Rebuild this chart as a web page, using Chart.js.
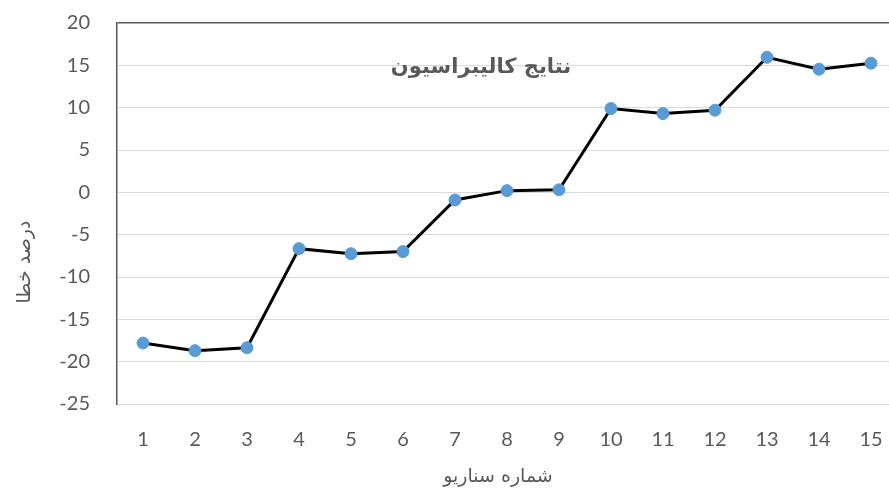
<!DOCTYPE html>
<html>
<head>
<meta charset="utf-8">
<script src="https://cdn.jsdelivr.net/npm/chart.js@4/dist/chart.umd.min.js"></script>
<style>
html,body{margin:0;padding:0;background:#fff;overflow:hidden;}
canvas{display:block;}
</style>
</head>
<body>
<canvas id="c" width="904" height="493"></canvas>
<script>
const categories = ['1','2','3','4','5','6','7','8','9','10','11','12','13','14','15'];
const errorPercent = [-17.8, -18.7, -18.35, -6.65, -7.25, -7.0, -0.9, 0.2, 0.3, 9.9, 9.3, 9.7, 15.95, 14.55, 15.25];
const yMin = -25, yMax = 20, yStep = 5;
const chartTitle = 'نتایج کالیبراسیون';
const xTitle = 'شماره سناریو';
const yTitle = 'درصد خطا';

const textColor = '#595959';

const textPlugin = {
  id: 'texts',
  afterDraw(chart) {
    const ctx = chart.ctx;
    ctx.save();
    ctx.fillStyle = textColor;
    ctx.textAlign = 'center';
    ctx.textBaseline = 'middle';
    ctx.font = 'bold 21px "DejaVu Sans", sans-serif';
    ctx.fillText(chartTitle, 481, 68);
    ctx.font = '19px "DejaVu Sans", sans-serif';
    ctx.fillText(xTitle, 498, 477);
    ctx.translate(25, 262);
    ctx.rotate(-Math.PI / 2);
    ctx.fillText(yTitle, 0, 0);
    ctx.restore();
  }
};

new Chart(document.getElementById('c'), {
  type: 'line',
  data: {
    labels: categories,
    datasets: [{
      data: errorPercent,
      borderColor: '#000000',
      borderWidth: 3,
      pointBackgroundColor: '#5B9BD5',
      pointBorderColor: '#5B9BD5',
      pointRadius: 6,
      pointBorderWidth: 1,
      tension: 0,
      fill: false
    }]
  },
  options: {
    responsive: false,
    animation: false,
    devicePixelRatio: 1,
    layout: { padding: { top: 23, left: 0, right: 0, bottom: 0 } },
    plugins: { legend: { display: false }, tooltip: { enabled: false }, title: { display: false } },
    scales: {
      x: {
        offset: true,
        grid: { display: false, drawTicks: true, tickLength: 24, tickColor: 'rgba(0,0,0,0)' },
        border: { display: true, color: '#d9d9d9', width: 1 },
        ticks: { color: textColor, font: { family: 'Lato, "Open Sans", sans-serif', size: 20 }, padding: 0, maxRotation: 0 },
        afterFit(s) { s.height = 89; }
      },
      y: {
        min: yMin, max: yMax,
        grid: {
          drawTicks: true,
          tickLength: 27,
          tickColor: 'rgba(0,0,0,0)',
          color: (c) => c.tick && c.tick.value === yMax ? '#595959' : '#d9d9d9',
          lineWidth: (c) => c.tick && c.tick.value === yMax ? 1.5 : 1
        },
        border: { display: true, color: '#595959', width: 1.5 },
        ticks: { stepSize: yStep, color: textColor, font: { family: 'Lato, "Open Sans", sans-serif', size: 20 }, padding: 0 },
        afterFit(s) { s.width = 117; }
      }
    }
  },
  plugins: [textPlugin]
});
</script>
</body>
</html>
